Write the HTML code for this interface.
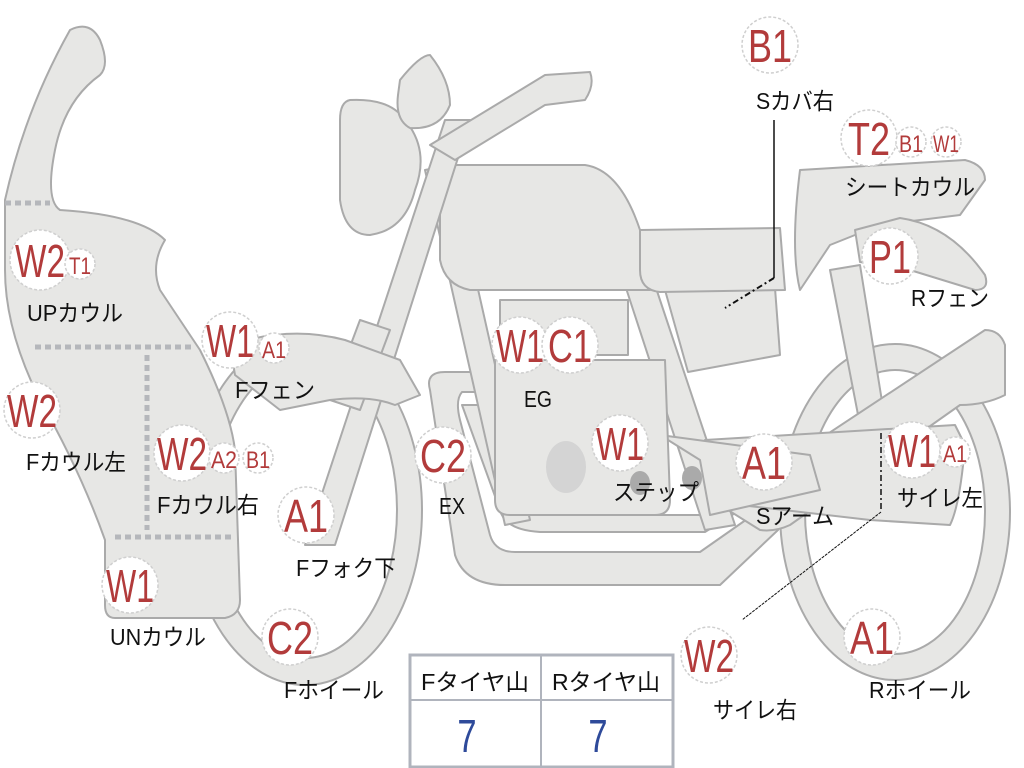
<!DOCTYPE html>
<html><head><meta charset="utf-8"><style>
html,body{margin:0;padding:0;background:#fff;}
svg{display:block}
.s{fill:#e7e7e5;stroke:#aaaaaa;stroke-width:2;stroke-linejoin:round}
.b{fill:#fff;stroke:#cfcfcf;stroke-width:1.5;stroke-dasharray:3 2}
.r{fill:#b23b3b;font-family:"Liberation Sans",sans-serif;text-anchor:middle}
.l{fill:#111;font-family:"Liberation Sans","Noto Sans CJK JP",sans-serif;font-size:23px;text-anchor:middle}
.d{stroke:#b5b7bb;stroke-width:5;stroke-dasharray:6 4;fill:none}
</style></head><body>
<svg width="1024" height="768" viewBox="0 0 1024 768" xmlns="http://www.w3.org/2000/svg">
<!-- rear wheel -->
<ellipse class="s" cx="895" cy="512" rx="115" ry="168"/>
<ellipse cx="895" cy="512" rx="90" ry="142" fill="#fff" stroke="#aaa" stroke-width="2"/>
<!-- front wheel -->
<ellipse class="s" cx="305" cy="510" rx="117" ry="175"/>
<ellipse cx="305" cy="510" rx="92" ry="148" fill="#fff" stroke="#aaa" stroke-width="2"/>
<!-- exhaust pipes -->
<path class="s" d="M430 390 Q425 372 445 372 L495 372 L495 392 L462 392 Q455 400 460 420 L490 535 Q495 552 515 552 L700 552 L760 510 L778 530 L720 585 L505 585 Q465 585 455 555 Z"/>
<path class="s" d="M462 405 L500 405 L520 500 Q525 515 545 515 L700 515 L740 490 L748 505 L705 532 L540 532 Q505 530 500 510 Z"/>
<!-- frame tubes -->
<path class="s" d="M425 170 L450 165 L530 520 L505 525 Z"/>
<path class="s" d="M625 285 L655 285 L735 525 L705 530 Z"/>
<!-- rear frame -->
<path class="s" d="M830 270 L860 265 L885 420 L860 425 Z"/>
<!-- swingarm -->
<path class="s" d="M720 505 L985 330 Q1000 330 1005 345 L1005 395 Q985 405 960 405 L790 525 Q775 532 760 530 Z"/>
<path class="s" d="M705 440 L955 425 L965 445 Q960 505 950 525 L870 520 L740 505 Z"/>
<!-- step bar -->
<path class="s" d="M660 435 L810 455 L820 490 L710 515 L700 460 Z"/>
<!-- engine -->
<path class="s" d="M500 300 L628 300 L628 355 L500 355 Z"/>
<path class="s" d="M495 360 L665 360 L670 500 Q670 515 655 515 L510 515 Q495 515 495 500 Z"/>
<ellipse cx="566" cy="467" rx="20" ry="26" fill="#d4d4d4"/>
<ellipse cx="640" cy="483" rx="10" ry="12" fill="#aaa"/>
<ellipse cx="692" cy="478" rx="10" ry="12" fill="#aaa"/>
<!-- side cover -->
<path class="s" d="M665 290 L775 288 L780 355 L688 372 Z"/>
<!-- tank -->
<path class="s" d="M440 165 L585 165 Q620 170 640 230 L650 290 L470 290 Q445 285 440 260 Z"/>
<!-- seat -->
<path class="s" d="M640 230 L780 228 L785 290 L660 292 Q640 290 640 270 Z"/>
<!-- seat cowl -->
<path class="s" d="M800 170 L965 160 Q985 165 985 180 L960 215 L880 225 L830 245 L800 290 Q790 250 800 170 Z"/>
<!-- rear fender -->
<path class="s" d="M855 230 L900 218 Q950 225 985 275 Q990 290 975 290 L910 270 L860 262 Z"/>
<!-- fork -->
<path class="s" d="M445 120 L470 120 L335 545 L305 545 Z"/>
<path class="s" d="M360 320 L390 330 L360 410 L330 400 Z"/>
<!-- front fender -->
<path class="s" d="M230 345 Q290 325 345 340 L400 360 L420 395 L395 405 Q370 395 330 400 L280 410 L235 375 Z"/>
<!-- handlebar -->
<path class="s" d="M430 145 L545 75 L590 72 Q595 85 585 100 L545 105 L455 160 Z"/>
<!-- headlight -->
<path class="s" d="M350 100 Q390 98 405 120 Q430 150 415 190 Q405 230 370 235 Q345 235 340 200 L340 120 Q340 102 350 100 Z"/>
<path class="s" d="M400 80 Q420 55 430 55 Q450 80 450 105 Q440 130 410 128 Q395 120 398 95 Z"/>
<!-- front cowl -->
<path class="s" d="M5 200 Q25 110 70 30 Q90 20 100 40 Q110 65 100 75 Q65 100 55 150 Q45 200 60 210 Q140 215 165 240 Q150 265 160 290 L200 350 Q230 410 235 450 L240 600 Q240 615 225 618 L115 618 Q105 618 105 605 L105 540 Q80 470 40 400 Q5 330 5 270 Z"/>
<line class="d" x1="5" y1="203" x2="50" y2="203"/>
<line class="d" x1="35" y1="347" x2="195" y2="347"/>
<line class="d" x1="147" y1="355" x2="147" y2="530"/>
<line class="d" x1="115" y1="537" x2="235" y2="537"/>
<!-- leader lines -->
<polyline points="774,120 774,278" fill="none" stroke="#111" stroke-width="1.5"/>
<line x1="774" y1="278" x2="725" y2="308" stroke="#111" stroke-width="2" stroke-dasharray="6 3 2 3"/>
<line x1="881" y1="433" x2="881" y2="510" stroke="#111" stroke-width="1.5" stroke-dasharray="6 3 2 3"/>
<line x1="881" y1="512" x2="742" y2="620" stroke="#111" stroke-width="1" stroke-dasharray="3 1"/>
<!-- table -->
<rect x="410" y="655" width="263" height="112" fill="#fff" stroke="#b0b4bd" stroke-width="3"/>
<line x1="410" y1="700" x2="673" y2="700" stroke="#b0b4bd" stroke-width="2"/>
<line x1="541" y1="655" x2="541" y2="767" stroke="#b0b4bd" stroke-width="2"/>
<text class="l" x="475" y="690" textLength="108" lengthAdjust="spacingAndGlyphs">Fタイヤ山</text>
<text class="l" x="606" y="690" textLength="108" lengthAdjust="spacingAndGlyphs">Rタイヤ山</text>
<text x="467" y="752" fill="#2e4a9a" font-family="Liberation Sans,sans-serif" font-size="46" text-anchor="middle" transform="translate(467 0) scale(0.75 1) translate(-467 0)">7</text>
<text x="598" y="752" fill="#2e4a9a" font-family="Liberation Sans,sans-serif" font-size="46" text-anchor="middle" transform="translate(598 0) scale(0.75 1) translate(-598 0)">7</text>

<g>
<circle class="b" cx="40" cy="260" r="30"/><text class="r" x="40" y="277" font-size="46" textLength="50" lengthAdjust="spacingAndGlyphs">W2</text>
<circle class="b" cx="80" cy="264" r="15"/><text class="r" x="80" y="274" font-size="24" textLength="22" lengthAdjust="spacingAndGlyphs">T1</text>
<circle class="b" cx="230" cy="340" r="28"/><text class="r" x="230" y="357" font-size="46" textLength="48" lengthAdjust="spacingAndGlyphs">W1</text>
<circle class="b" cx="274" cy="348" r="15"/><text class="r" x="274" y="358" font-size="24" textLength="24" lengthAdjust="spacingAndGlyphs">A1</text>
<circle class="b" cx="32" cy="410" r="28"/><text class="r" x="32" y="427" font-size="46" textLength="50" lengthAdjust="spacingAndGlyphs">W2</text>
<circle class="b" cx="182" cy="453" r="28"/><text class="r" x="182" y="470" font-size="46" textLength="50" lengthAdjust="spacingAndGlyphs">W2</text>
<circle class="b" cx="224" cy="458" r="15"/><text class="r" x="224" y="468" font-size="24" textLength="26" lengthAdjust="spacingAndGlyphs">A2</text>
<circle class="b" cx="258" cy="458" r="15"/><text class="r" x="258" y="468" font-size="24" textLength="24" lengthAdjust="spacingAndGlyphs">B1</text>
<circle class="b" cx="306" cy="515" r="28"/><text class="r" x="306" y="532" font-size="46" textLength="44" lengthAdjust="spacingAndGlyphs">A1</text>
<circle class="b" cx="130" cy="585" r="28"/><text class="r" x="130" y="602" font-size="46" textLength="48" lengthAdjust="spacingAndGlyphs">W1</text>
<circle class="b" cx="290" cy="637" r="28"/><text class="r" x="290" y="654" font-size="46" textLength="46" lengthAdjust="spacingAndGlyphs">C2</text>
<circle class="b" cx="443" cy="455" r="28"/><text class="r" x="443" y="472" font-size="46" textLength="46" lengthAdjust="spacingAndGlyphs">C2</text>
<circle class="b" cx="520" cy="345" r="28"/><text class="r" x="520" y="362" font-size="46" textLength="48" lengthAdjust="spacingAndGlyphs">W1</text>
<circle class="b" cx="570" cy="345" r="28"/><text class="r" x="570" y="362" font-size="46" textLength="44" lengthAdjust="spacingAndGlyphs">C1</text>
<circle class="b" cx="620" cy="443" r="28"/><text class="r" x="620" y="460" font-size="46" textLength="48" lengthAdjust="spacingAndGlyphs">W1</text>
<circle class="b" cx="764" cy="462" r="28"/><text class="r" x="764" y="479" font-size="46" textLength="44" lengthAdjust="spacingAndGlyphs">A1</text>
<circle class="b" cx="912" cy="450" r="28"/><text class="r" x="912" y="467" font-size="46" textLength="48" lengthAdjust="spacingAndGlyphs">W1</text>
<circle class="b" cx="955" cy="452" r="15"/><text class="r" x="955" y="462" font-size="24" textLength="24" lengthAdjust="spacingAndGlyphs">A1</text>
<circle class="b" cx="709" cy="655" r="28"/><text class="r" x="709" y="672" font-size="46" textLength="50" lengthAdjust="spacingAndGlyphs">W2</text>
<circle class="b" cx="872" cy="637" r="28"/><text class="r" x="872" y="654" font-size="46" textLength="44" lengthAdjust="spacingAndGlyphs">A1</text>
<circle class="b" cx="770" cy="45" r="28"/><text class="r" x="770" y="62" font-size="46" textLength="44" lengthAdjust="spacingAndGlyphs">B1</text>
<circle class="b" cx="869" cy="138" r="28"/><text class="r" x="869" y="155" font-size="46" textLength="42" lengthAdjust="spacingAndGlyphs">T2</text>
<circle class="b" cx="911" cy="142" r="15"/><text class="r" x="911" y="152" font-size="24" textLength="24" lengthAdjust="spacingAndGlyphs">B1</text>
<circle class="b" cx="946" cy="142" r="15"/><text class="r" x="946" y="152" font-size="24" textLength="26" lengthAdjust="spacingAndGlyphs">W1</text>
<circle class="b" cx="890" cy="256" r="28"/><text class="r" x="890" y="273" font-size="46" textLength="42" lengthAdjust="spacingAndGlyphs">P1</text>
</g>
<text class="l" x="75" y="321" textLength="96" lengthAdjust="spacingAndGlyphs">UPカウル</text>
<text class="l" x="275" y="398" textLength="80" lengthAdjust="spacingAndGlyphs">Fフェン</text>
<text class="l" x="76" y="470" textLength="100" lengthAdjust="spacingAndGlyphs">Fカウル左</text>
<text class="l" x="208" y="513" textLength="102" lengthAdjust="spacingAndGlyphs">Fカウル右</text>
<text class="l" x="346" y="576" textLength="100" lengthAdjust="spacingAndGlyphs">Fフォク下</text>
<text class="l" x="158" y="645" textLength="96" lengthAdjust="spacingAndGlyphs">UNカウル</text>
<text class="l" x="334" y="698" textLength="100" lengthAdjust="spacingAndGlyphs">Fホイール</text>
<text class="l" x="452" y="514" textLength="26" lengthAdjust="spacingAndGlyphs">EX</text>
<text class="l" x="538" y="407" textLength="28" lengthAdjust="spacingAndGlyphs">EG</text>
<text class="l" x="656" y="500" textLength="86" lengthAdjust="spacingAndGlyphs">ステップ</text>
<text class="l" x="795" y="524" textLength="78" lengthAdjust="spacingAndGlyphs">Sアーム</text>
<text class="l" x="940" y="506" textLength="86" lengthAdjust="spacingAndGlyphs">サイレ左</text>
<text class="l" x="755" y="718" textLength="84" lengthAdjust="spacingAndGlyphs">サイレ右</text>
<text class="l" x="920" y="698" textLength="102" lengthAdjust="spacingAndGlyphs">Rホイール</text>
<text class="l" x="795" y="109" textLength="78" lengthAdjust="spacingAndGlyphs">Sカバ右</text>
<text class="l" x="910" y="195" textLength="130" lengthAdjust="spacingAndGlyphs">シートカウル</text>
<text class="l" x="950" y="306" textLength="78" lengthAdjust="spacingAndGlyphs">Rフェン</text>
</svg>
</body></html>
